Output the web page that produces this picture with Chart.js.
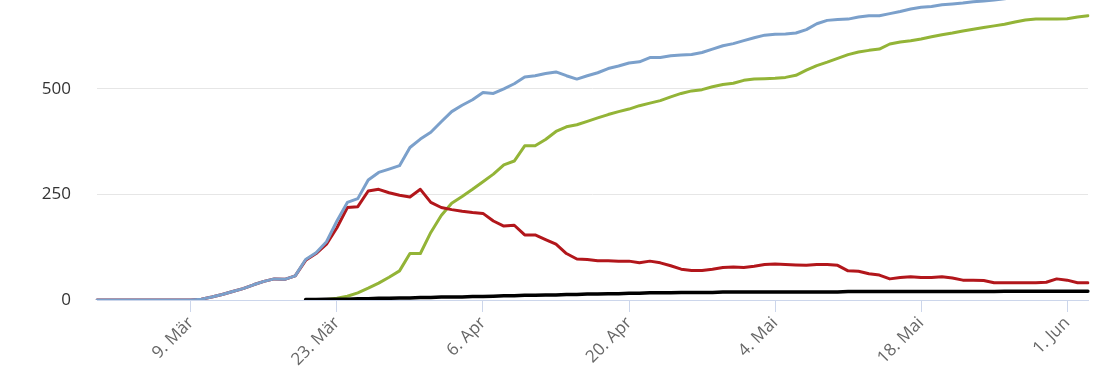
<!DOCTYPE html>
<html>
<head>
<meta charset="utf-8">
<script src="https://cdn.jsdelivr.net/npm/chart.js@4/dist/chart.umd.min.js"></script>
<style>
  html, body { margin: 0; padding: 0; background: #fff; overflow: hidden; }
  #wrap { position: absolute; left: 0; top: -53px; width: 1110px; height: 424px; }
</style>
</head>
<body>
<div id="wrap"><canvas id="chart"></canvas></div>
<script>
// Days 29 Feb .. 3 Jun 2020
const MONTHS = ['Jan', 'Feb', 'Mär', 'Apr', 'Mai', 'Jun'];
const days = [];
for (let d = new Date(2020, 1, 29); d <= new Date(2020, 5, 3); d.setDate(d.getDate() + 1)) {
    days.push(d.getDate() + '. ' + MONTHS[d.getMonth()]);
}
const tickDays = ['9. Mär', '23. Mär', '6. Apr', '20. Apr', '4. Mai', '18. Mai', '1. Jun'];
const yTicks = [0, 250, 500, 750];

// total cases (blue)
const total = [
    0, 0, 0, 0, 0, 0, 0, 0, 0, 0,
    2, 7, 13, 20, 27, 36, 44, 50, 49, 57,
    96, 112, 138, 187, 231, 240, 284, 302, 310, 318,
    361, 381, 397, 422, 446, 461, 474, 491, 489, 500,
    512, 528, 531, 536, 540, 531, 523, 531, 538, 548,
    554, 561, 564, 574, 574, 578, 580, 581, 586, 594,
    602, 607, 614, 621, 627, 629, 630, 632, 640, 654,
    662, 664, 665, 670, 673, 673, 678, 683, 689, 693,
    695, 699, 701, 703, 706, 708, 710, 713, 716, 719,
    722, 725, 728, 731, 734, 737
];
// active (red)
const active = [
    0, 0, 0, 0, 0, 0, 0, 0, 0, 0,
    2, 7, 13, 20, 27, 36, 44, 50, 49, 57,
    94, 110, 132, 171, 219, 221, 258, 262, 254, 248,
    244, 262, 231, 219, 214, 210, 207, 205, 187, 175,
    177, 154, 154, 143, 132, 110, 97, 96, 93, 93,
    92, 92, 88, 92, 88, 81, 73, 70, 70, 73,
    77, 78, 77, 80, 84, 85, 84, 83, 82, 84,
    84, 82, 69, 68, 62, 59, 50, 53, 55, 53,
    53, 55, 52, 47, 47, 46, 41, 41, 41, 41,
    41, 42, 50, 47, 41, 41
];
// recovered (green)
const recovered = [
    null, null, null, null, null, null, null, null, null, null,
    null, null, null, null, null, null, null, null, null, null,
    null, null, 1, 4, 9, 17, 28, 40, 54, 69,
    110, 110, 160, 200, 229, 245, 262, 280, 298, 320,
    329, 365, 365, 380, 399, 410, 415, 423, 431, 439,
    446, 452, 460, 466, 472, 481, 489, 495, 498, 505,
    510, 513, 520, 523, 524, 525, 527, 532, 544, 555,
    563, 572, 581, 587, 591, 594, 606, 611, 614, 618,
    623, 628, 632, 637, 641, 645, 649, 653, 658, 663,
    665, 665, 665, 666, 670, 673
];
// deaths (black)
const deaths = [
    null, null, null, null, null, null, null, null, null, null,
    null, null, null, null, null, null, null, null, null, null,
    1, 1, 2, 2, 2, 3, 3, 4, 4, 5,
    5, 6, 6, 7, 7, 7, 8, 8, 9, 10,
    10, 11, 11, 12, 12, 13, 13, 14, 14, 15,
    15, 16, 16, 17, 17, 17, 18, 18, 18, 18,
    19, 19, 19, 19, 19, 19, 19, 19, 19, 19,
    19, 19, 20, 20, 20, 20, 20, 20, 20, 20,
    20, 20, 20, 20, 20, 20, 20, 21, 21, 21,
    21, 21, 21, 21, 21, 21
];

const line = (data, color, width) => ({
    data, borderColor: color, borderWidth: width,
    pointRadius: 0, tension: 0, borderJoinStyle: 'round', borderCapStyle: 'round',
    spanGaps: false
});

new Chart(document.getElementById('chart'), {
    type: 'line',
    data: {
        labels: days,
        datasets: [
            line(deaths, '#000000', 3.5),
            line(total, '#7ba0cb', 3),
            line(active, '#b2161b', 3),
            line(recovered, '#93b437', 3)
        ]
    },
    options: {
        responsive: true,
        maintainAspectRatio: false,
        animation: false,
        layout: { padding: { top: 0, right: 22, left: 0, bottom: 0 } },
        plugins: { legend: { display: false }, tooltip: { enabled: false } },
        scales: {
            x: {
                type: 'category',
                grid: {
                    drawOnChartArea: false,
                    drawTicks: true,
                    tickLength: 12,
                    tickColor: (ctx) => tickDays.includes(days[ctx.index]) ? '#ccd6eb' : 'rgba(0,0,0,0)'
                },
                border: { display: true, color: '#ccd6eb', width: 1 },
                ticks: {
                    autoSkip: false,
                    minRotation: 45,
                    maxRotation: 45,
                    padding: 1,
                    color: '#666666',
                    font: { family: 'Open Sans', size: 17 },
                    callback: (v, i) => tickDays.includes(days[i]) ? days[i] : ''
                },
                afterFit: (scale) => { scale.height = 71; }
            },
            y: {
                min: 0,
                max: 750,
                afterBuildTicks: (scale) => { scale.ticks = yTicks.map(v => ({ value: v })); },
                grid: { color: '#e6e6e6', lineWidth: 1, drawTicks: false },
                border: { display: false },
                ticks: {
                    padding: 26,
                    color: '#333333',
                    font: { family: 'Open Sans', size: 17 }
                },
                afterFit: (scale) => { scale.width = 97; }
            }
        }
    }
});
</script>
</body>
</html>
